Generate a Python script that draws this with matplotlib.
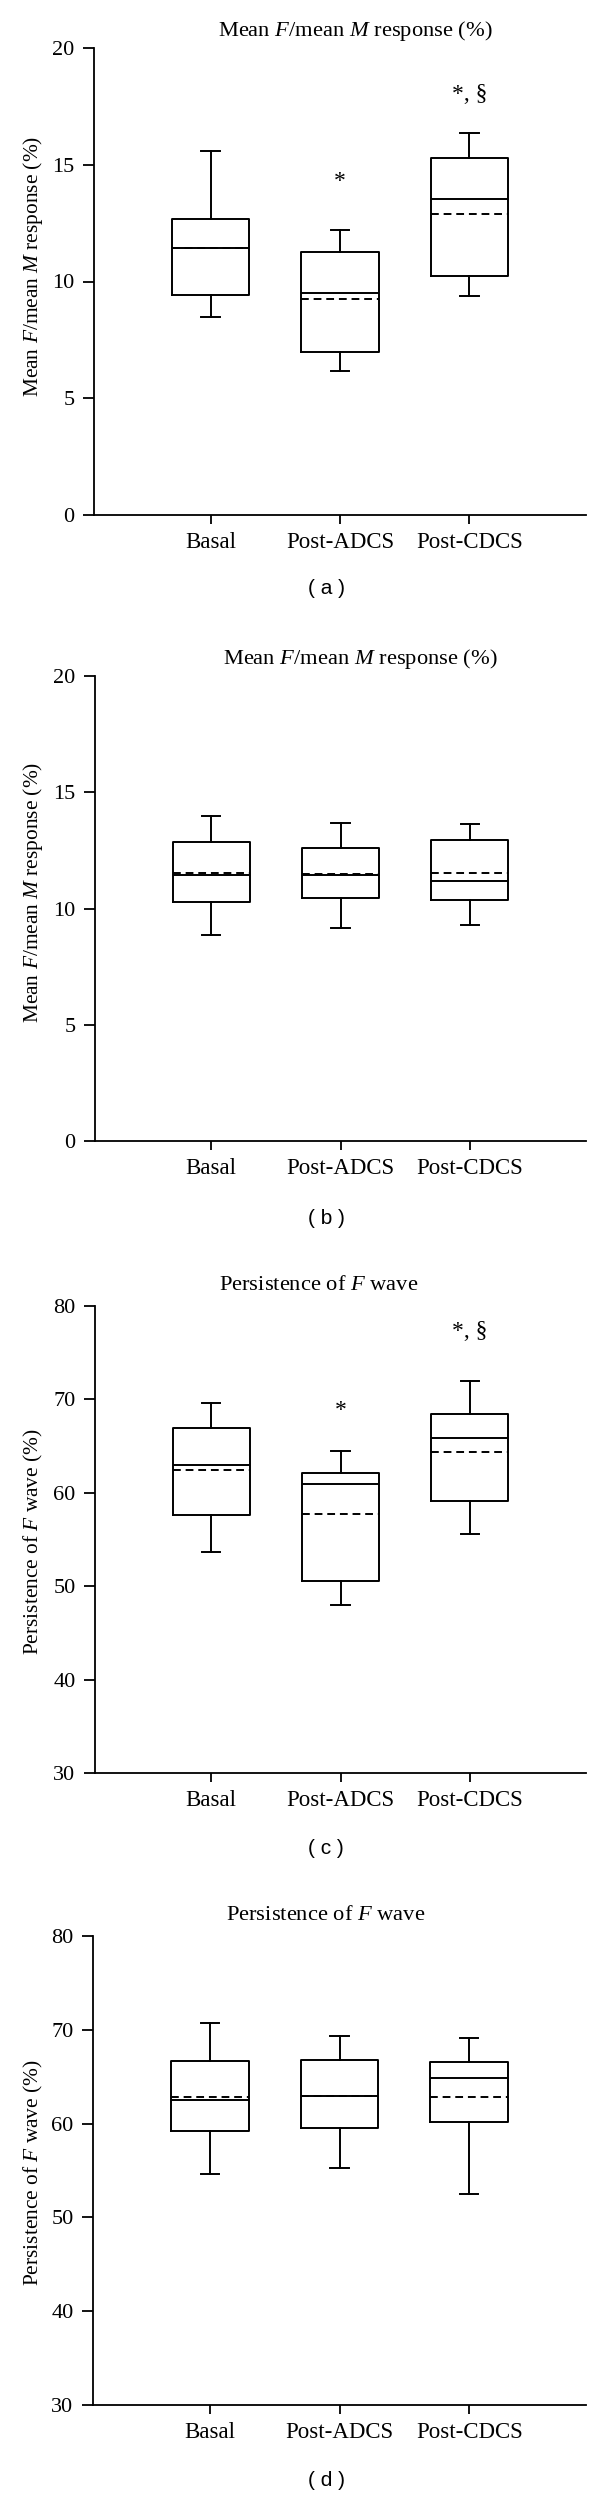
import matplotlib
matplotlib.use("Agg")
import matplotlib.pyplot as plt

plt.rcParams['font.family'] = ['Liberation Serif', 'DejaVu Serif']
plt.rcParams['mathtext.fontset'] = 'custom'
plt.rcParams['mathtext.rm'] = 'Liberation Serif'
plt.rcParams['mathtext.it'] = 'Liberation Serif:italic'

groups = ['Basal', 'Post-ADCS', 'Post-CDCS']

# panel (a) Mean F/mean M response, stimulated
a_whislo = [8.5, 6.15, 9.4]
a_q1 = [9.42, 6.97, 10.22]
a_med = [11.42, 9.5, 13.53]
a_mean = [11.42, 9.24, 12.91]
a_q3 = [12.68, 11.26, 15.31]
a_whishi = [15.6, 12.19, 16.37]
a_marks = ['', '*', '*, §']

# panel (b) Mean F/mean M response, sham
b_whislo = [8.88, 9.18, 9.31]
b_q1 = [10.27, 10.47, 10.37]
b_med = [11.42, 11.45, 11.2]
b_mean = [11.52, 11.49, 11.52]
b_q3 = [12.86, 12.61, 12.96]
b_whishi = [13.98, 13.66, 13.63]
b_marks = ['', '', '']

# panel (c) Persistence of F wave, stimulated
c_whislo = [53.7, 47.95, 55.6]
c_q1 = [57.57, 50.52, 59.15]
c_med = [62.96, 60.97, 65.86]
c_mean = [62.46, 57.78, 64.41]
c_q3 = [66.94, 62.17, 68.47]
c_whishi = [69.63, 64.49, 71.96]
c_marks = ['', '*', '*, §']

# panel (d) Persistence of F wave, sham
d_whislo = [54.65, 55.31, 52.47]
d_q1 = [59.18, 59.55, 60.12]
d_med = [62.47, 62.92, 64.81]
d_mean = [62.8, 62.92, 62.84]
d_q3 = [66.63, 66.79, 66.58]
d_whishi = [70.7, 69.38, 69.09]
d_marks = ['', '', '']

W, H = 600, 2518
fig = plt.figure(figsize=(W / 100, H / 100), dpi=100)


def add_ax(left, top, right, bottom):
    return fig.add_axes([left / W, 1 - bottom / H, (right - left) / W, (bottom - top) / H])


ylab_ab = 'Mean $F$/mean $M$ response (%)'
ylab_cd = 'Persistence of $F$ wave (%)'
tit_ab = 'Mean $F$/mean $M$ response (%)'
tit_cd = 'Persistence of $F$ wave'

panels = [
    dict(box=(94, 48, 586, 515), data=(a_whislo, a_q1, a_med, a_mean, a_q3, a_whishi), marks=a_marks,
         mark_y=[0, 14.3, 18.0], ylim=(0, 20), yticks=[0, 5, 10, 15, 20],
         title=tit_ab, tx=355, ty=31, ylab=ylab_ab, ly=266, letter='( a )', py=589),
    dict(box=(95, 676, 586, 1141), data=(b_whislo, b_q1, b_med, b_mean, b_q3, b_whishi), marks=b_marks,
         mark_y=[0, 0, 0], ylim=(0, 20), yticks=[0, 5, 10, 15, 20],
         title=tit_ab, tx=360, ty=659, ylab=ylab_ab, ly=892, letter='( b )', py=1218),
    dict(box=(95, 1306, 586, 1773), data=(c_whislo, c_q1, c_med, c_mean, c_q3, c_whishi), marks=c_marks,
         mark_y=[0, 68.8, 77.3], ylim=(30, 80), yticks=[30, 40, 50, 60, 70, 80],
         title=tit_cd, tx=319, ty=1286, ylab=ylab_cd, ly=1542, letter='( c )', py=1848),
    dict(box=(93, 1936, 586, 2405), data=(d_whislo, d_q1, d_med, d_mean, d_q3, d_whishi), marks=d_marks,
         mark_y=[0, 0, 0], ylim=(30, 80), yticks=[30, 40, 50, 60, 70, 80],
         title=tit_cd, tx=326, ty=1915, ylab=ylab_cd, ly=2173, letter='( d )', py=2480),
]

lw = 1.4
for p in panels:
    ax = add_ax(*p['box'])
    whislo, q1, med, mean, q3, whishi = p['data']
    stats = []
    for i, g in enumerate(groups):
        stats.append(dict(label=g, whislo=whislo[i], q1=q1[i], med=med[i], mean=mean[i],
                          q3=q3[i], whishi=whishi[i], fliers=[]))
    ax.bxp(stats, positions=[1, 2, 3], widths=0.6, capwidths=0.14,
           showmeans=True, meanline=True, showfliers=False,
           boxprops=dict(color='black', linewidth=lw),
           whiskerprops=dict(color='black', linewidth=lw),
           capprops=dict(color='black', linewidth=lw),
           medianprops=dict(color='black', linewidth=lw),
           meanprops=dict(color='black', linewidth=lw, linestyle=(0, (4, 2.5))))
    for i, m in enumerate(p['marks']):
        if m:
            ax.text(i + 1, p['mark_y'][i], m, ha='center', va='center', fontsize=17)
    ax.set_xlim(0.1, 3.9)
    ax.set_ylim(*p['ylim'])
    ax.set_yticks(p['yticks'])
    ax.set_xticks([1, 2, 3])
    ax.set_xticklabels(groups)
    ax.spines['top'].set_visible(False)
    ax.spines['right'].set_visible(False)
    ax.spines['left'].set_linewidth(1.3)
    ax.spines['bottom'].set_linewidth(1.3)
    ax.tick_params(axis='y', direction='out', length=8, width=1.3, pad=6, labelsize=16)
    ax.tick_params(axis='x', direction='out', length=6.5, width=1.3, pad=6, labelsize=16.5)
    fig.text(p['tx'] / W, 1 - p['ty'] / H, p['title'], ha='center', va='center', fontsize=16.2)
    fig.text(33 / W, 1 - p['ly'] / H, p['ylab'], ha='center', va='center', rotation=90, fontsize=15.4)
    fig.text(326 / W, 1 - p['py'] / H, p['letter'], ha='center', va='center', fontsize=15,
             family=['Liberation Sans', 'DejaVu Sans'])

fig.savefig('out.png', dpi=100)
